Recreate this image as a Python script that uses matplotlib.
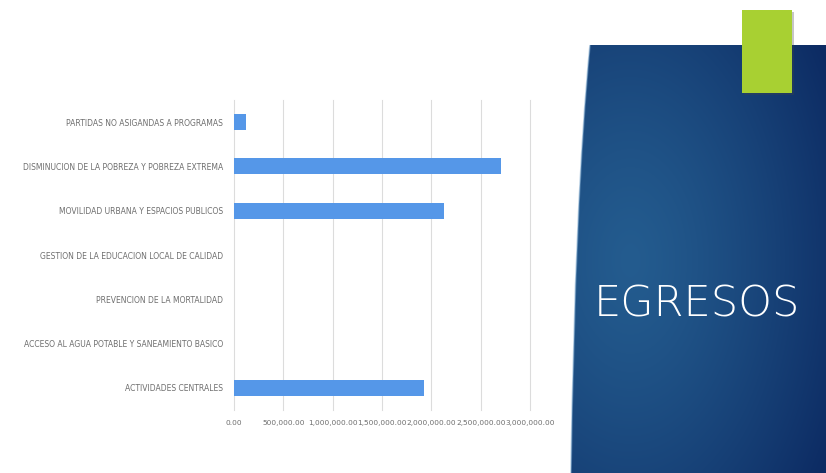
"""Bar chart slide: EGRESOS by programme."""

import matplotlib.pyplot as plt
import numpy as np
from matplotlib.patches import PathPatch, Rectangle
from matplotlib.path import Path
from matplotlib.ticker import FuncFormatter

# Data (bottom to top, as drawn)
categorias = [
    "ACTIVIDADES CENTRALES",
    "ACCESO AL AGUA POTABLE Y SANEAMIENTO BASICO",
    "PREVENCION DE LA MORTALIDAD",
    "GESTION DE LA EDUCACION LOCAL DE CALIDAD",
    "MOVILIDAD URBANA Y ESPACIOS PUBLICOS",
    "DISMINUCION DE LA POBREZA Y POBREZA EXTREMA",
    "PARTIDAS NO ASIGANDAS A PROGRAMAS",
]
egresos = [1925000, 0, 0, 0, 2130000, 2705000, 120000]
x_ticks = [0, 500000, 1000000, 1500000, 2000000, 2500000, 3000000]

W, H = 826, 473
fig = plt.figure(figsize=(W / 100, H / 100), dpi=100)
fig.patch.set_facecolor("white")

# --- background panel on the right ---
bg = fig.add_axes([0, 0, 1, 1])
bg.set_xlim(0, W)
bg.set_ylim(H, 0)
bg.axis("off")

yy, xx = np.mgrid[0:H, 0:W]
d = np.sqrt(((xx - 630) / 230.0) ** 2 + ((yy - 260) / 380.0) ** 2)
t = np.clip(d, 0, 1) ** 1.3
light = np.array([0.14, 0.36, 0.56])
dark = np.array([0.05, 0.17, 0.39])
grad = light[None, None, :] * (1 - t[..., None]) + dark[None, None, :] * t[..., None]
img = bg.imshow(grad, extent=(0, W, H, 0), origin="upper", zorder=1)

verts = [(590, 45), (575, 200), (571, 473), (W, H), (W, 45), (590, 45)]
codes = [Path.MOVETO, Path.CURVE3, Path.LINETO, Path.LINETO, Path.LINETO, Path.CLOSEPOLY]
panel = PathPatch(Path(verts, codes), facecolor="none", edgecolor="none")
bg.add_patch(panel)
img.set_clip_path(panel)

# thin light bevel on the curved edge
edge = PathPatch(Path(verts[:3], codes[:3]), facecolor="none",
                 edgecolor="#7aa6cc", linewidth=1.2, alpha=0.5, zorder=2)
bg.add_patch(edge)

# green accent with shadow
bg.add_patch(Rectangle((744, 12), 50, 83, facecolor="#444444", alpha=0.3, zorder=3))
bg.add_patch(Rectangle((742, 10), 50, 83, facecolor="#a8d032", zorder=4))

bg.text(697, 304, "EGRESOS", color="white", fontsize=31, family="DejaVu Sans",
        fontweight="light", ha="center", va="center", zorder=5)

# --- bar chart ---
ax = fig.add_axes([234 / W, 1 - 410 / H, (530 - 234) / W, 310 / H])
ax.set_facecolor("none")
y = np.arange(len(categorias))
ax.barh(y, egresos, height=0.36, color="#5597e8", zorder=3)
ax.set_yticks(y)
ax.set_yticklabels(categorias)
ax.set_ylim(-0.5, len(categorias) - 0.5)
ax.set_xlim(x_ticks[0], x_ticks[-1])
ax.set_xticks(x_ticks)
ax.xaxis.set_major_formatter(FuncFormatter(lambda v, p: f"{v:,.2f}"))
ax.grid(axis="x", color="#dcdcdc", linewidth=0.8, zorder=0)
for gl in ax.get_xgridlines():
    gl.set_clip_on(False)
for s in ax.spines.values():
    s.set_visible(False)
ax.tick_params(length=0, labelsize=5.5, labelcolor="#6e6e6e")
ax.tick_params(axis="y", pad=8)
ax.tick_params(axis="x", labelsize=5.3, pad=7)

fig.savefig("out.png", dpi=100)
